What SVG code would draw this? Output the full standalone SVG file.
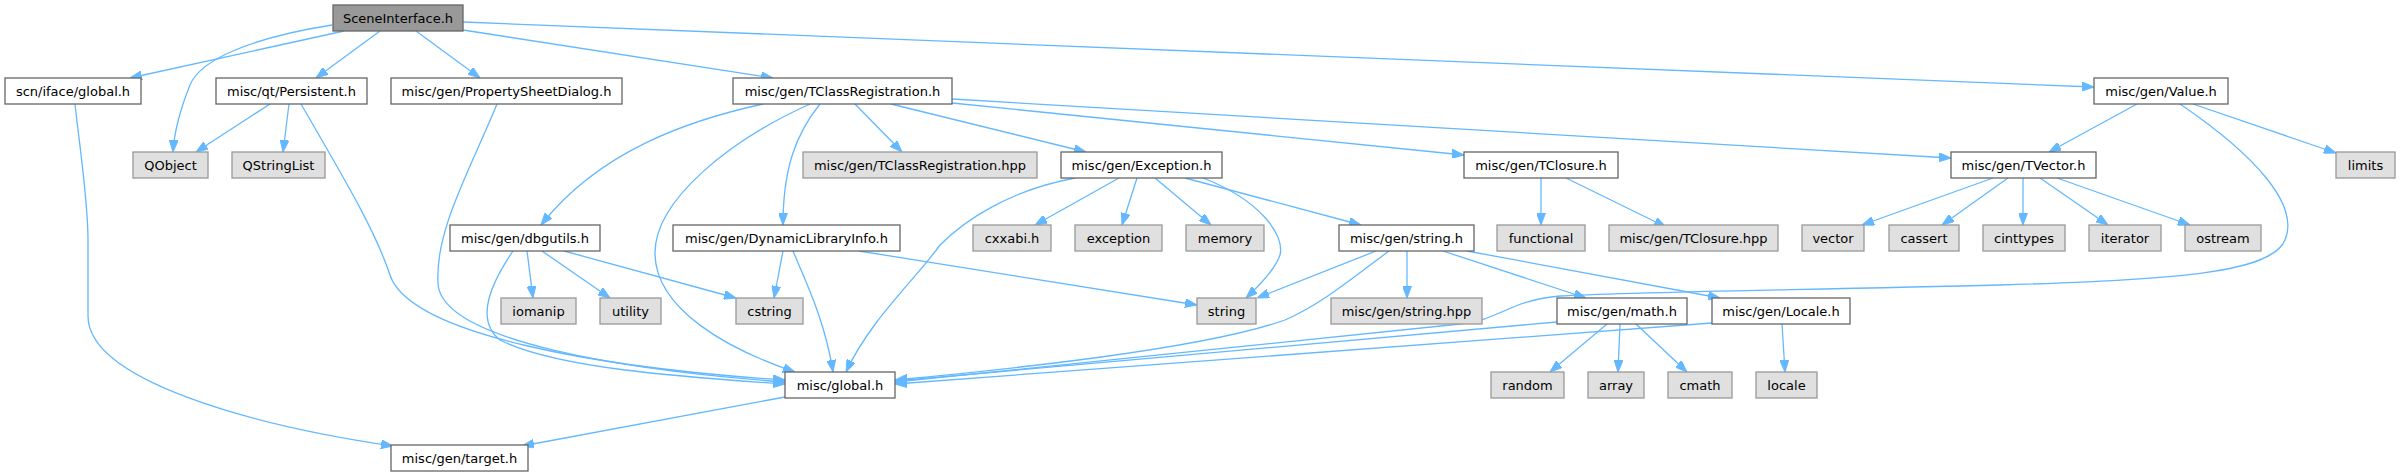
<svg xmlns="http://www.w3.org/2000/svg" width="2400" height="476" viewBox="0 0 2400 476">
<style>
text{font-family:"DejaVu Sans","Liberation Sans",sans-serif;font-size:13px;text-anchor:middle;fill:#000}
.n rect{fill:#fff;stroke:#666;stroke-width:1.3}
.x rect{fill:#e0e0e0;stroke:#999;stroke-width:1.3}
.r rect{fill:#999;stroke:#666;stroke-width:1.3}
#edges path{fill:none;stroke:#63b8ff;stroke-width:1.3;marker-end:url(#a)}
</style>
<defs>
<marker id="a" viewBox="0 0 10 10" refX="10" refY="5" markerWidth="12" markerHeight="9" markerUnits="userSpaceOnUse" orient="auto" preserveAspectRatio="none"><path d="M0,0 L10,5 L0,10 z" fill="#63b8ff" stroke="#63b8ff"/></marker>
</defs>
<rect width="2400" height="476" fill="#fff"/>
<g id="edges">
<path d="M344,31 L130,78"/>
<path d="M332,25 C250,38 200,60 190,85 C180,110 174,135 173,152"/>
<path d="M380,31 L316,78"/>
<path d="M416,31 L480,78"/>
<path d="M463,30 L773,78"/>
<path d="M463,22 L2094,87"/>
<path d="M75,104 C80,150 88,200 88,240 L88,316 C88,380 250,425 393,446"/>
<path d="M270,104 L196,152"/>
<path d="M289,104 L283,152"/>
<path d="M301,104 C345,180 375,230 390,275 C410,335 600,368 785,380"/>
<path d="M497,104 C470,170 435,230 438,283 C440,340 620,370 785,382"/>
<path d="M763,104 C690,120 600,150 541,225"/>
<path d="M810,104 C730,140 655,200 655,253 C655,310 730,350 795,372"/>
<path d="M820,104 C795,135 783,170 783,225"/>
<path d="M855,104 L902,152"/>
<path d="M891,104 L1086,152"/>
<path d="M952,103 L1464,155"/>
<path d="M952,99 L1951,158"/>
<path d="M527,251 L533,298"/>
<path d="M542,251 L610,298"/>
<path d="M564,251 L736,298"/>
<path d="M513,251 C490,285 475,320 500,340 C560,370 700,378 785,384"/>
<path d="M783,251 L774,298"/>
<path d="M793,251 C805,280 825,320 833,372"/>
<path d="M859,251 L1197,305"/>
<path d="M1119,178 L1035,225"/>
<path d="M1137,178 L1122,225"/>
<path d="M1155,178 L1211,225"/>
<path d="M1185,178 L1361,225"/>
<path d="M1203,178 C1260,200 1285,235 1280,255 C1275,270 1260,285 1246,298"/>
<path d="M1075,178 C1010,190 965,220 940,245 C915,280 870,320 846,372"/>
<path d="M1376,251 L1257,298"/>
<path d="M1389,251 C1350,280 1320,305 1285,320 C1200,350 1000,370 895,380"/>
<path d="M1407,251 L1407,298"/>
<path d="M1443,251 L1586,298"/>
<path d="M1467,251 L1720,298"/>
<path d="M1557,322 L895,381"/>
<path d="M1607,324 L1550,372"/>
<path d="M1620,324 L1618,372"/>
<path d="M1636,324 L1687,372"/>
<path d="M1712,323 L895,384"/>
<path d="M1782,324 L1785,372"/>
<path d="M785,397 L522,446"/>
<path d="M1541,178 L1541,225"/>
<path d="M1566,178 L1666,227"/>
<path d="M1993,178 L1862,225"/>
<path d="M2008,178 L1942,225"/>
<path d="M2023,178 L2023,225"/>
<path d="M2040,178 L2108,225"/>
<path d="M2057,178 L2190,225"/>
<path d="M2137,104 L2049,152"/>
<path d="M2193,104 L2336,153"/>
<path d="M2180,104 C2255,155 2300,205 2285,240 C2272,272 2180,280 2000,285 C1800,290 1620,292 1560,296 C1510,300 1500,320 1460,324 C1300,340 1000,372 895,382"/>
</g>
<g id="n0" class="r"><rect x="333" y="5" width="130" height="26"/><text x="398" y="22.5">SceneInterface.h</text></g>
<g id="n1" class="n"><rect x="5" y="78" width="136" height="26"/><text x="73" y="95.5">scn/iface/global.h</text></g>
<g id="n2" class="n"><rect x="216" y="78" width="151" height="26"/><text x="291.5" y="95.5">misc/qt/Persistent.h</text></g>
<g id="n3" class="n"><rect x="391" y="78" width="231" height="26"/><text x="506.5" y="95.5">misc/gen/PropertySheetDialog.h</text></g>
<g id="n4" class="n"><rect x="733" y="78" width="219" height="26"/><text x="842.5" y="95.5">misc/gen/TClassRegistration.h</text></g>
<g id="n5" class="n"><rect x="2094" y="78" width="134" height="26"/><text x="2161" y="95.5">misc/gen/Value.h</text></g>
<g id="n6" class="x"><rect x="133" y="152" width="75" height="26"/><text x="170.5" y="169.5">QObject</text></g>
<g id="n7" class="x"><rect x="232" y="152" width="93" height="26"/><text x="278.5" y="169.5">QStringList</text></g>
<g id="n8" class="x"><rect x="803" y="152" width="234" height="26"/><text x="920" y="169.5">misc/gen/TClassRegistration.hpp</text></g>
<g id="n9" class="n"><rect x="1061" y="152" width="161" height="26"/><text x="1141.5" y="169.5">misc/gen/Exception.h</text></g>
<g id="n10" class="n"><rect x="1464" y="152" width="154" height="26"/><text x="1541" y="169.5">misc/gen/TClosure.h</text></g>
<g id="n11" class="n"><rect x="1951" y="152" width="145" height="26"/><text x="2023.5" y="169.5">misc/gen/TVector.h</text></g>
<g id="n12" class="x"><rect x="2336" y="152" width="59" height="26"/><text x="2365.5" y="169.5">limits</text></g>
<g id="n13" class="n"><rect x="450" y="225" width="150" height="26"/><text x="525" y="242.5">misc/gen/dbgutils.h</text></g>
<g id="n14" class="n"><rect x="673" y="225" width="227" height="26"/><text x="786.5" y="242.5">misc/gen/DynamicLibraryInfo.h</text></g>
<g id="n15" class="x"><rect x="973" y="225" width="78" height="26"/><text x="1012" y="242.5">cxxabi.h</text></g>
<g id="n16" class="x"><rect x="1075" y="225" width="87" height="26"/><text x="1118.5" y="242.5">exception</text></g>
<g id="n17" class="x"><rect x="1186" y="225" width="78" height="26"/><text x="1225" y="242.5">memory</text></g>
<g id="n18" class="n"><rect x="1339" y="225" width="135" height="26"/><text x="1406.5" y="242.5">misc/gen/string.h</text></g>
<g id="n19" class="x"><rect x="1497" y="225" width="88" height="26"/><text x="1541" y="242.5">functional</text></g>
<g id="n20" class="x"><rect x="1609" y="225" width="169" height="26"/><text x="1693.5" y="242.5">misc/gen/TClosure.hpp</text></g>
<g id="n21" class="x"><rect x="1802" y="225" width="62" height="26"/><text x="1833" y="242.5">vector</text></g>
<g id="n22" class="x"><rect x="1889" y="225" width="70" height="26"/><text x="1924" y="242.5">cassert</text></g>
<g id="n23" class="x"><rect x="1983" y="225" width="82" height="26"/><text x="2024" y="242.5">cinttypes</text></g>
<g id="n24" class="x"><rect x="2089" y="225" width="72" height="26"/><text x="2125" y="242.5">iterator</text></g>
<g id="n25" class="x"><rect x="2185" y="225" width="76" height="26"/><text x="2223" y="242.5">ostream</text></g>
<g id="n26" class="x"><rect x="501" y="298" width="75" height="26"/><text x="538.5" y="315.5">iomanip</text></g>
<g id="n27" class="x"><rect x="600" y="298" width="61" height="26"/><text x="630.5" y="315.5">utility</text></g>
<g id="n28" class="x"><rect x="736" y="298" width="67" height="26"/><text x="769.5" y="315.5">cstring</text></g>
<g id="n29" class="x"><rect x="1197" y="298" width="59" height="26"/><text x="1226.5" y="315.5">string</text></g>
<g id="n30" class="x"><rect x="1331" y="298" width="151" height="26"/><text x="1406.5" y="315.5">misc/gen/string.hpp</text></g>
<g id="n31" class="n"><rect x="1557" y="298" width="130" height="26"/><text x="1622" y="315.5">misc/gen/math.h</text></g>
<g id="n32" class="n"><rect x="1712" y="298" width="138" height="26"/><text x="1781" y="315.5">misc/gen/Locale.h</text></g>
<g id="n33" class="n"><rect x="785" y="372" width="110" height="26"/><text x="840" y="389.5">misc/global.h</text></g>
<g id="n34" class="x"><rect x="1491" y="372" width="73" height="26"/><text x="1527.5" y="389.5">random</text></g>
<g id="n35" class="x"><rect x="1588" y="372" width="56" height="26"/><text x="1616" y="389.5">array</text></g>
<g id="n36" class="x"><rect x="1668" y="372" width="64" height="26"/><text x="1700" y="389.5">cmath</text></g>
<g id="n37" class="x"><rect x="1756" y="372" width="61" height="26"/><text x="1786.5" y="389.5">locale</text></g>
<g id="n38" class="n"><rect x="391" y="445" width="137" height="26"/><text x="459.5" y="462.5">misc/gen/target.h</text></g>
</svg>
